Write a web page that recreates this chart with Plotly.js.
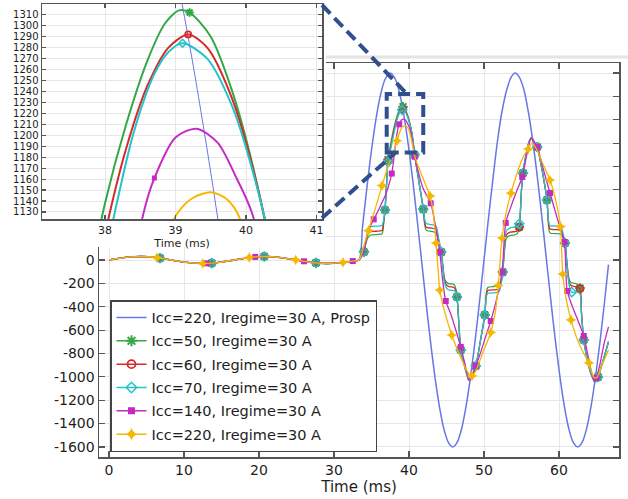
<!DOCTYPE html>
<html><head><meta charset="utf-8">
<script src="https://cdn.plot.ly/plotly-3.0.1.min.js"></script>
<style>html,body{margin:0;padding:0;background:#fff;}#chart{width:628px;height:499px;}</style>
</head><body><div id="chart"></div>
<script>
// ---- data (time in ms, current in A) ----
// pre-fault part, common to every curve
const preT = [0, 1, 2, 3, 4.2, 5.2, 6.4, 6.8, 8.3, 10.4, 12.5, 13.0, 13.7, 14.6, 16.7, 18.7, 19.5, 20.7, 22.9, 24.9, 26.0, 27.6, 29.2, 31.2, 32.5, 33.33];
const preY = [0, 11, 21, 27, 30, 28, 20, 16, 0, -21, -30, -29, -27, -21, 0, 21, 26, 30, 21, 1, -11, -25, -30, -21, -9, 0];

// Icc=220, Iregime=30 A, Prosp
const prospT = [33.8, 34.3, 34.8, 35.3, 35.8, 36.3, 36.8, 37.5, 38.2, 38.7, 39.0, 39.25, 39.5, 39.75, 40.0, 40.5, 41.0, 41.67, 42.3, 42.9, 43.5, 44.1, 44.7, 45.3, 45.83, 46.4, 47.0, 47.6, 48.2, 48.8, 49.4, 50.0, 50.6, 51.2, 51.8, 52.4, 53.0, 53.6, 54.17, 54.7, 55.3, 55.9, 56.5, 57.1, 57.7, 58.33, 58.9, 59.5, 60.1, 60.7, 61.3, 61.9, 62.5, 63.1, 63.7, 64.3, 64.9, 65.5, 66.1, 66.6];
const prospY = [280, 570, 841, 1080, 1283, 1439, 1545, 1600, 1545, 1439, 1351, 1264, 1166, 1058, 940, 681, 398, 0, -378, -716, -1020, -1271, -1458, -1568, -1600, -1563, -1448, -1255, -1002, -699, -358, 0, 358, 699, 1020, 1271, 1448, 1563, 1600, 1565, 1463, 1271, 1021, 716, 378, 0, -339, -682, -988, -1247, -1442, -1561, -1600, -1559, -1438, -1243, -984, -681, -340, -40];

// Icc=50
const icc50T = [33.6, 34.0, 34.2, 34.5, 34.9, 35.6, 36.4, 36.6, 36.8, 37.0, 37.2, 37.5, 37.75, 38.0, 38.3, 38.6, 38.85, 39.05, 39.2, 39.5, 39.8, 40.1, 40.4, 40.76, 41.3, 41.9, 42.1, 42.3, 43.0, 43.6, 43.9, 44.1, 44.3, 44.5, 44.8, 45.2, 46.0, 46.2, 46.4, 46.7, 46.9, 47.3, 47.7, 48.0, 48.4, 48.9, 49.5, 50.1, 50.3, 50.5, 51.5, 52.0, 52.3, 52.5, 52.7, 53.0, 53.5, 54.3, 54.5, 54.7, 55.0, 55.2, 55.6, 56.0, 56.3, 56.7, 57.1, 57.6, 58.0, 58.4, 58.6, 58.8, 60.2, 60.5, 60.8, 61.1, 61.4, 61.7, 62.4, 62.6, 62.8, 63.0, 63.3, 63.8, 64.3, 64.8, 65.2, 65.7, 66.2, 66.6];
const icc50Y = [25, 70, 130, 190, 214, 218, 225, 300, 428, 650, 860, 975, 1060, 1138, 1210, 1268, 1302, 1314, 1312, 1290, 1241, 1171, 1077, 900, 680, 436, 300, 255, 245, 232, 170, 120, 68, -40, -170, -200, -210, -235, -316, -600, -770, -880, -975, -1030, -990, -907, -700, -470, -290, -235, -225, -215, -170, -103, 60, 190, 210, 218, 235, 282, 600, 744, 900, 1010, 1044, 1010, 967, 820, 680, 513, 300, 232, 222, 195, 145, -50, -175, -195, -205, -220, -240, -450, -684, -860, -980, -1044, -1001, -900, -790, -700];
const icc50Marks = [6.8, 13.7, 20.7, 27.6, 34.0, 36.8, 37.2, 39.2, 40.76, 41.9, 44.3, 46.4, 46.9, 48.9, 50.1, 52.5, 54.7, 55.2, 57.1, 58.4, 60.8, 62.8, 63.3, 65.2];

// Icc=60
const icc60T = [33.6, 34.0, 34.2, 34.5, 34.9, 35.6, 36.4, 36.6, 36.8, 37.0, 37.2, 37.5, 37.75, 38.07, 38.3, 38.6, 38.9, 39.18, 39.45, 39.8, 40.1, 40.4, 40.76, 41.3, 41.9, 42.1, 42.3, 43.0, 43.6, 43.9, 44.1, 44.3, 44.5, 44.8, 45.2, 46.0, 46.2, 46.4, 46.7, 46.9, 47.3, 47.7, 48.0, 48.4, 48.9, 49.5, 50.1, 50.3, 50.5, 51.5, 52.0, 52.3, 52.5, 52.7, 53.0, 53.5, 54.3, 54.5, 54.7, 55.0, 55.2, 55.6, 56.0, 56.3, 56.7, 57.1, 57.6, 58.0, 58.4, 58.6, 58.8, 60.2, 60.5, 60.8, 61.1, 61.4, 61.7, 62.4, 62.6, 62.8, 63.0, 63.3, 63.8, 64.3, 64.8, 65.2, 65.7, 66.2, 66.6];
const icc60Y = [25, 70, 140, 215, 242, 246, 252, 315, 428, 640, 850, 950, 1030, 1130, 1188, 1245, 1280, 1292, 1280, 1234, 1169, 1079, 900, 680, 436, 320, 280, 272, 262, 185, 125, 68, -45, -190, -225, -235, -255, -316, -600, -770, -880, -975, -1030, -990, -907, -700, -470, -310, -262, -255, -245, -185, -103, 70, 215, 238, 245, 255, 282, 600, 744, 900, 1010, 1044, 1010, 967, 820, 680, 513, 320, 265, 255, 215, 145, -60, -200, -222, -230, -238, -245, -450, -684, -860, -980, -1044, -1001, -900, -790, -700];
const icc60Marks = [6.8, 13.7, 20.7, 27.6, 34.0, 36.8, 37.2, 39.18, 40.76, 41.9, 44.3, 46.4, 46.9, 48.9, 50.1, 52.5, 54.7, 55.2, 57.1, 58.4, 60.8, 62.8, 63.3, 65.2];

// Icc=70
const icc70T = [33.6, 34.0, 34.2, 34.5, 34.9, 35.6, 36.4, 36.6, 36.8, 37.0, 37.2, 37.5, 37.8, 38.14, 38.4, 38.7, 38.9, 39.1, 39.45, 39.8, 40.1, 40.4, 40.76, 41.3, 41.9, 42.1, 42.3, 43.0, 43.6, 43.9, 44.1, 44.3, 44.5, 44.8, 45.2, 46.0, 46.2, 46.4, 46.7, 46.9, 47.3, 47.7, 48.0, 48.4, 48.9, 49.5, 50.1, 50.3, 50.5, 51.5, 52.0, 52.3, 52.5, 52.7, 53.0, 53.5, 54.3, 54.5, 54.7, 55.0, 55.2, 55.6, 56.0, 56.3, 56.7, 57.1, 57.6, 58.0, 58.4, 58.6, 58.8, 60.2, 60.5, 60.8, 61.1, 61.4, 61.7, 62.4, 62.6, 62.8, 63.0, 63.3, 63.8, 64.3, 64.8, 65.2, 65.7, 66.2, 66.6];
const icc70Y = [25, 70, 150, 240, 285, 290, 295, 340, 428, 630, 840, 930, 1025, 1130, 1201, 1256, 1276, 1284, 1270, 1227, 1166, 1083, 900, 680, 436, 345, 312, 302, 290, 200, 130, 68, -50, -210, -255, -262, -272, -316, -600, -770, -880, -975, -1030, -990, -907, -700, -470, -320, -285, -280, -270, -200, -103, 80, 250, 275, 282, 285, 310, 600, 744, 900, 1010, 1044, 1010, 967, 820, 680, 513, 340, 295, 288, 240, 145, -70, -230, -275, -275, -280, -290, -470, -684, -860, -980, -1044, -1001, -900, -790, -700];
const icc70Marks = [6.8, 13.7, 20.7, 27.6, 34.0, 36.8, 37.2, 39.1, 40.76, 41.9, 44.3, 46.4, 46.9, 48.9, 50.1, 52.5, 54.7, 55.2, 57.1, 58.4, 60.8, 61.7, 63.3, 65.2];

// Icc=140
const icc140T = [33.6, 34.0, 34.3, 34.7, 35.3, 35.8, 36.3, 36.8, 37.2, 37.7, 38.0, 38.3, 38.55, 38.7, 39.0, 39.3, 39.6, 39.85, 40.08, 40.4, 40.76, 41.3, 41.9, 42.9, 43.5, 44.1, 44.5, 44.9, 45.5, 46.2, 46.9, 47.5, 48.0, 48.4, 48.9, 49.5, 50.2, 50.9, 51.7, 52.4, 52.9, 53.5, 54.3, 55.1, 55.7, 56.3, 56.7, 57.1, 57.9, 58.8, 59.8, 60.7, 61.1, 61.8, 62.6, 63.3, 63.9, 64.5, 64.8, 65.0, 65.5, 66.0, 66.6];
const icc140Y = [25, 75, 180, 270, 348, 410, 480, 545, 620, 740, 880, 1040, 1130, 1161, 1198, 1206, 1193, 1163, 1130, 1040, 884, 740, 610, 485, 300, 68, -180, -351, -450, -590, -744, -900, -1030, -990, -907, -800, -660, -522, -330, -103, 317, 440, 580, 710, 900, 1044, 1010, 967, 780, 573, 350, 154, -265, -400, -530, -650, -830, -1000, -1040, -1010, -880, -720, -573];
const icc140Marks = [13.0, 19.5, 26.0, 32.5, 35.3, 37.7, 38.7, 40.76, 42.9, 44.1, 44.9, 46.9, 48.9, 50.9, 52.4, 52.9, 55.1, 57.1, 58.8, 60.7, 61.1, 63.3, 65.0];

// Icc=220
const icc220T = [33.8, 34.2, 34.6, 35.5, 36.4, 37.0, 37.6, 38.0, 38.4, 38.7, 39.04, 39.25, 39.5, 39.7, 39.87, 40.3, 40.8, 41.8, 42.8, 43.2, 43.6, 43.9, 44.1, 44.7, 45.7, 46.6, 47.5, 48.1, 48.4, 48.9, 49.8, 50.9, 51.5, 51.9, 52.4, 53.0, 53.6, 54.5, 55.2, 55.9, 56.4, 57.0, 57.8, 58.8, 59.6, 60.2, 60.5, 61.0, 61.6, 62.5, 63.3, 64.0, 64.6, 65.0, 65.6, 66.6];
const icc220Y = [80, 170, 251, 440, 636, 760, 870, 940, 1020, 1085, 1130, 1143, 1148, 1143, 1130, 1040, 880, 710, 548, 420, 145, -100, -257, -430, -642, -790, -920, -985, -992, -950, -800, -620, -450, -218, 188, 420, 573, 760, 880, 950, 1000, 950, 830, 684, 500, 285, -120, -350, -513, -690, -800, -881, -1000, -1010, -920, -770];
const icc220Marks = [6.4, 12.5, 18.7, 24.9, 31.2, 34.6, 36.4, 38.4, 42.8, 43.6, 44.1, 45.7, 48.4, 50.9, 51.9, 52.4, 53.6, 55.9, 58.8, 60.2, 60.5, 61.6, 64.0];

const names = ['Icc=220, Iregime=30 A, Prosp', 'Icc=50, Iregime=30 A', 'Icc=60, Iregime=30 A', 'Icc=70, Iregime=30 A', 'Icc=140, Iregime=30 A', 'Icc=220, Iregime=30 A'];
const xTicks = [0, 10, 20, 30, 40, 50, 60];
const yTicks = [-1600, -1400, -1200, -1000, -800, -600, -400, -200, 0, 200, 400, 600, 800, 1000, 1200, 1400, 1600];
const insetXTicks = [38, 39, 40, 41];
const insetYTicks = [1130, 1140, 1150, 1160, 1170, 1180, 1190, 1200, 1210, 1220, 1230, 1240, 1250, 1260, 1270, 1280, 1290, 1300, 1310];

// ---- figure ----
const W = 628, H = 499;
const px = v => v / W, py = v => 1 - v / H;
const FONT = 'DejaVu Sans, Arial, sans-serif';

const styles = [
  {color: '#6577e6'},
  {color: '#33a847', symbol: 'asterisk-open', size: 8, lw: 2},
  {color: '#d62a2a', symbol: 'circle-open', size: 7, lw: 1.8},
  {color: '#23c3cc', symbol: 'diamond-open', size: 7, lw: 1.5},
  {color: '#c42bc4', symbol: 'square', size: 6, lw: 0},
  {color: '#f6b700', symbol: 'star-diamond', size: 8, lw: 0}
];

const fault = [
  [icc50T, icc50Y, icc50Marks],
  [icc60T, icc60Y, icc60Marks],
  [icc70T, icc70Y, icc70Marks],
  [icc140T, icc140Y, icc140Marks],
  [icc220T, icc220Y, icc220Marks]
];

const traces = [];
// empty subplot whose white background hides the main plot behind the inset
traces.push({x: [null], y: [null], xaxis: 'x2', yaxis: 'y2', mode: 'markers', showlegend: false, hoverinfo: 'skip'});

const pT = preT.concat(prospT), pY = preY.concat(prospY);
traces.push({x: pT, y: pY, xaxis: 'x', yaxis: 'y', mode: 'lines', name: names[0], showlegend: true, legendgroup: 'g0',
  line: {color: styles[0].color, width: 1.5, shape: 'spline', smoothing: 0.8}});

fault.forEach((f, k) => {
  const st = styles[k + 1];
  const t = preT.concat(f[0]), y = preY.concat(f[1]);
  const mx = [], my = [];
  t.forEach((v, i) => { if (f[2].includes(v)) { mx.push(v); my.push(y[i]); } });
  const mk = {symbol: st.symbol, size: st.size, color: st.color, line: {color: st.color, width: st.lw}};
  traces.push({x: t, y: y, xaxis: 'x', yaxis: 'y', mode: 'lines', showlegend: false, hoverinfo: 'skip',
    line: {color: st.color, width: 1.3, shape: 'spline', smoothing: 0.8}});
  traces.push({x: mx, y: my, xaxis: 'x', yaxis: 'y', mode: 'markers', showlegend: false, marker: mk});
  // legend entry
  traces.push({x: [null], y: [null], xaxis: 'x', yaxis: 'y', mode: 'lines+markers', name: names[k + 1], showlegend: true,
    legendgroup: 'g' + (k + 1), line: {color: st.color, width: 1.5}, marker: Object.assign({}, mk, {size: st.size + 1})});
});

// inset copies
traces.push({x: pT, y: pY, xaxis: 'x3', yaxis: 'y3', mode: 'lines', showlegend: false,
  line: {color: styles[0].color, width: 1, shape: 'spline', smoothing: 0.8}});
fault.forEach((f, k) => {
  const st = styles[k + 1];
  const t = preT.concat(f[0]), y = preY.concat(f[1]);
  const mx = [], my = [];
  t.forEach((v, i) => { if (f[2].includes(v)) { mx.push(v); my.push(y[i]); } });
  traces.push({x: t, y: y, xaxis: 'x3', yaxis: 'y3', mode: 'lines', showlegend: false,
    line: {color: st.color, width: 2, shape: 'spline', smoothing: 0.8}});
  traces.push({x: mx, y: my, xaxis: 'x3', yaxis: 'y3', mode: 'markers', showlegend: false,
    marker: {symbol: st.symbol, size: Math.max(5, st.size - 1), color: st.color, line: {color: st.color, width: st.lw}}});
});

const axisCommon = {showline: true, linecolor: '#555', linewidth: 1.5, mirror: 'ticks', ticks: 'inside',
  tickcolor: '#555', tickwidth: 1.2, showgrid: true, gridcolor: '#e6e6e6', gridwidth: 1, zeroline: false};

const dashColor = '#2f4f8f';
const layout = {
  width: W, height: H, margin: {l: 0, r: 0, t: 0, b: 0},
  paper_bgcolor: '#fff', plot_bgcolor: '#fff',
  font: {family: FONT, color: '#1e1e1e'},
  showlegend: true,
  xaxis: Object.assign({}, axisCommon, {domain: [px(99), px(619)], range: [-1.333, 68.0], anchor: 'y',
    tickvals: xTicks, ticklen: 6, tickfont: {size: 14}, title: {text: 'Time (ms)', font: {size: 15}, standoff: 2}}),
  yaxis: Object.assign({}, axisCommon, {domain: [py(457), py(63)], range: [-1686, 1686], anchor: 'x',
    tickvals: yTicks, ticktext: yTicks.map(v => String(v)), ticklen: 6, tickfont: {size: 14}}),
  xaxis2: {domain: [0, px(326)], range: [0, 1], anchor: 'y2', visible: false},
  yaxis2: {domain: [py(247), 1], range: [0, 1], anchor: 'x2', visible: false},
  xaxis3: Object.assign({}, axisCommon, {domain: [px(42), px(322)], range: [37.106, 41.078], anchor: 'y3',
    tickvals: insetXTicks, ticklen: 4, tickfont: {size: 11}, title: {text: 'Time (ms)', font: {size: 11}, standoff: 1}}),
  yaxis3: Object.assign({}, axisCommon, {domain: [py(219), py(4)], range: [1123.6, 1319.8], anchor: 'x3',
    tickvals: insetYTicks, ticklen: 4, tickfont: {size: 10}}),
  legend: {x: px(110), y: py(300), xanchor: 'left', yanchor: 'top', bgcolor: '#fff', bordercolor: '#444', borderwidth: 1.5,
    font: {size: 14.5, family: FONT, color: '#1e1e1e'}, traceorder: 'grouped', tracegroupgap: 1.5, itemwidth: 30},
  shapes: [
    {type: 'line', xref: 'paper', yref: 'paper', x0: px(326), x1: 1, y0: py(57), y1: py(57), line: {color: '#e4e4e4', width: 3}, layer: 'below'},
    {type: 'rect', xref: 'x', yref: 'y', x0: 37.03, x1: 41.9, y0: 921, y1: 1420, line: {color: dashColor, width: 4, dash: '12px,6px'}, layer: 'above'},
    {type: 'line', xref: 'paper', yref: 'paper', x0: px(322), y0: py(5), x1: px(407), y1: py(94), line: {color: dashColor, width: 4, dash: '12px,6px'}, layer: 'above'},
    {type: 'line', xref: 'paper', yref: 'paper', x0: px(322), y0: py(218), x1: px(395), y1: py(153), line: {color: dashColor, width: 4, dash: '12px,6px'}, layer: 'above'}
  ]
};

Plotly.newPlot('chart', traces, layout, {staticPlot: true, displayModeBar: false});
</script>
</body></html>
